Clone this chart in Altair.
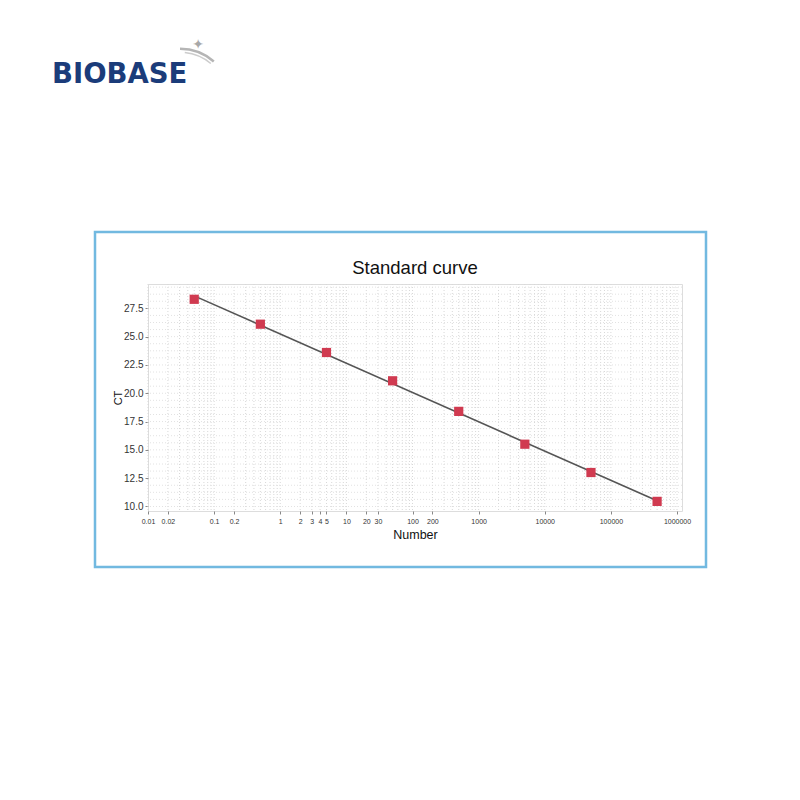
import altair as alt
import pandas as pd

# ---- data ----
numbers = [0.05, 0.5, 5, 50, 500, 5000, 50000, 500000]
ct_values = [28.3, 26.1, 23.6, 21.1, 18.4, 15.5, 13.0, 10.45]
fit_numbers = [0.05, 500000]
fit_ct = [28.6, 10.5]

x_tick_values = [0.01, 0.02, 0.1, 0.2, 1, 2, 3, 4, 5, 10, 20, 30, 100, 200,
                 1000, 10000, 100000, 1000000]
y_tick_values = [10.0, 12.5, 15.0, 17.5, 20.0, 22.5, 25.0, 27.5]
grid_multipliers = [1, 2, 3, 4, 5, 6, 7, 8, 9]
grid_exponents = [-2, -1, 0, 1, 2, 3, 4, 5]
y_grid_values = [10.0 + 0.625 * i for i in range(32)]

X_DOMAIN = [0.01, 1.19e6]
Y_DOMAIN = [9.6, 29.65]

W, H = 534, 227
PAD_L, PAD_T = 140, 276

pts = pd.DataFrame({"Number": numbers, "Ct": ct_values})
fit = pd.DataFrame({"Number": fit_numbers, "Ct": fit_ct})
gx = pd.DataFrame({"Number": [m * 10 ** e for e in grid_exponents for m in grid_multipliers] + [1e6]})
gy = pd.DataFrame({"Ct": y_grid_values})
one = pd.DataFrame({"a": [0]})

xscale = alt.Scale(type="log", domain=X_DOMAIN, nice=False)
yscale = alt.Scale(domain=Y_DOMAIN, nice=False, zero=False)

FONT = "Liberation Sans"

x_axis = alt.Axis(
    values=x_tick_values,
    labelExpr="datum.value < 1 ? format(datum.value, '.2~f') : format(datum.value, 'd')",
    title="Number",
    grid=False,
    domain=False,
    tickSize=3,
    tickColor="#888888",
    labelFontSize=7,
    labelColor="#333333",
    labelFont=FONT,
    labelPadding=3,
    labelFlush=False,
    labelOverlap=False,
    titleFont=FONT,
    titleFontSize=12.5,
    titleFontWeight="normal",
    titleColor="#111111",
    titlePadding=4,
)
y_axis = alt.Axis(
    values=y_tick_values,
    format=".1f",
    title="CT",
    grid=False,
    domain=False,
    tickSize=3,
    tickColor="#888888",
    labelFontSize=10,
    labelColor="#333333",
    labelFont=FONT,
    labelPadding=2,
    titleFont=FONT,
    titleFontSize=11,
    titleFontWeight="normal",
    titleColor="#111111",
    titleX=-25,
)

X = alt.X("Number:Q", scale=xscale, axis=x_axis)
Y = alt.Y("Ct:Q", scale=yscale, axis=y_axis)

grid_v = alt.Chart(gx).mark_rule(color="#d8d8d8", strokeDash=[1, 2], strokeWidth=1).encode(x=X)
grid_h = alt.Chart(gy).mark_rule(color="#e2e2e2", strokeDash=[1, 2], strokeWidth=1).encode(y=Y)

line = alt.Chart(fit).mark_line(color="#555555", strokeWidth=1.6).encode(x=X, y=Y)

points = alt.Chart(pts).mark_point(
    shape="square", filled=True, size=85, color="#d03a50", opacity=1
).encode(x=X, y=Y)

# ---- decorations (title, page frame and logo) ----
title = alt.Chart(one).mark_text(
    text="Standard curve", font=FONT, fontSize=18.5, color="#111111",
    align="center", baseline="alphabetic",
).encode(x=alt.value(W / 2), y=alt.value(-10))
box = alt.Chart(one).mark_rect(fill=None, stroke="#72b9e0", strokeWidth=2.5).encode(
    x=alt.value(-53), x2=alt.value(558), y=alt.value(-52), y2=alt.value(283)
)
logo = alt.Chart(one).mark_text(
    text="BIOBASE", font="DejaVu Sans", fontWeight="bold", fontSize=27.5,
    color="#1b3c7a", align="left", baseline="alphabetic",
).encode(x=alt.value(-96), y=alt.value(-201))
swoosh1 = alt.Chart(one).mark_arc(color="#b5b5b5").encode(
    x=alt.value(32), y=alt.value(-184),
    theta=alt.value(0.0), theta2=alt.value(0.72),
    radius=alt.value(52.5), radius2=alt.value(50),
)
swoosh2 = alt.Chart(one).mark_arc(color="#cccccc").encode(
    x=alt.value(32), y=alt.value(-184),
    theta=alt.value(0.1), theta2=alt.value(0.7),
    radius=alt.value(48.5), radius2=alt.value(47),
)
star = alt.Chart(one).mark_text(
    text="✦", font="DejaVu Sans", fontSize=14, color="#a8a8a8",
    align="center", baseline="middle",
).encode(x=alt.value(50), y=alt.value(-239))

chart = alt.layer(
    grid_v, grid_h, line, points, title, box, logo, swoosh1, swoosh2, star
).properties(
    width=W,
    height=H,
    autosize=alt.AutoSizeParams(type="none"),
    padding={"left": PAD_L, "top": PAD_T, "right": 784 - PAD_L - W, "bottom": 784 - PAD_T - H},
).configure_view(
    stroke="#c4c4c4", strokeWidth=1.5
).configure(background="white")

chart.save("out.html", embed_options={"renderer": "svg", "actions": False})
